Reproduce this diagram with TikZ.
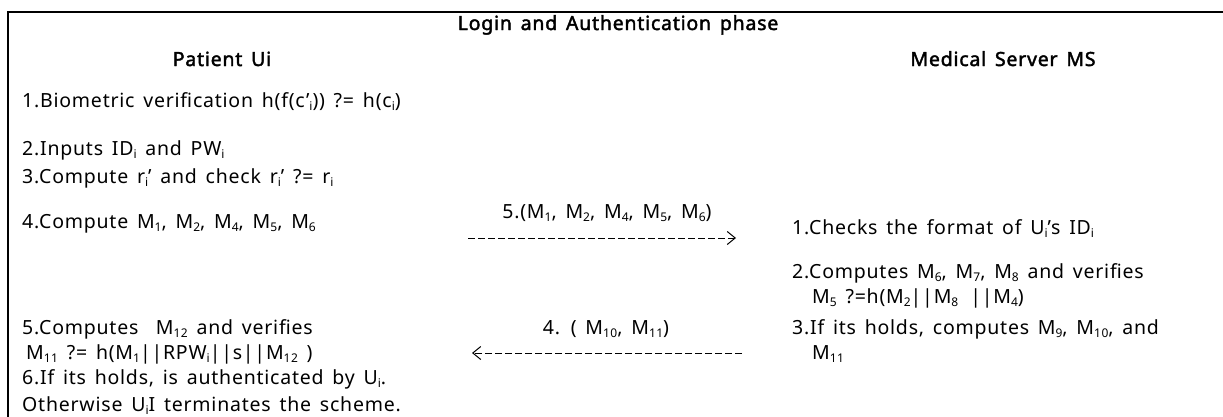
\documentclass[tikz,border=0pt]{standalone}
\usepackage{fontspec}
\setmainfont{Noto Sans}[BoldFont={Noto Sans}, BoldFeatures={FakeBold=2}, WordSpace=1.5, LetterSpace=4]
\usetikzlibrary{arrows.meta}
% small lowered index, as used in the message notation
\newcommand\ix[1]{\raisebox{-0.35ex}{\fontsize{12}{12}\selectfont #1}}
\newcommand\bodysize{\fontsize{19.5}{22}\selectfont}
\tikzset{
  frame/.style={line width=1.2pt},
  steptext/.style={anchor=base west, inner sep=0pt, font=\bodysize},
  heading/.style={anchor=base, inner sep=0pt, font=\bodysize\bfseries},
  msglabel/.style={anchor=base, inner sep=0pt, font=\bodysize},
  msgarrow/.style={line width=1pt, dash pattern=on 7pt off 3pt,
    -{Straight Barb[length=8pt,width=13pt,line width=1pt]}}
}
\begin{document}
\begin{tikzpicture}[x=1pt,y=-1pt]
\useasboundingbox (0,0) rectangle (1223,416);
% open frame: left and top edges
\draw[frame] (8,420) -- (8,12) -- (1230,12);

% headings
\node[heading] (title) at (618,30) {Login and Authentication phase};
\node[heading] (patient) at (222,66) {Patient Ui};
\node[heading] (server) at (1003,66) {Medical Server MS};

% patient side
\node[steptext] (p1) at (22,107) {1.Biometric verification h(f(c’\ix{i})) ?= h(c\ix{i})};
\node[steptext] (p2) at (22,155) {2.Inputs ID\ix{i} and PW\ix{i}};
\node[steptext] (p3) at (22,183) {3.Compute r\ix{i}’ and check r\ix{i}’ ?= r\ix{i}};
\node[steptext] (p4) at (22,228) {4.Compute M\ix{1}, M\ix{2}, M\ix{4}, M\ix{5}, M\ix{6}};
\node[steptext] (p5) at (22,334) {5.Computes \ M\ix{12} and verifies};
\node[steptext] (p5b) at (26,359) {M\ix{11} ?= h(M\ix{1}||RPW\ix{i}||s||M\ix{12} )};
\node[steptext] (p6) at (22,384) {6.If its holds, is authenticated by U\ix{i}.};
\node[steptext] (p7) at (22,411) {Otherwise U\ix{i}I terminates the scheme.};

% server side
\node[steptext] (s1) at (792,234) {1.Checks the format of U\ix{i}’s ID\ix{i}};
\node[steptext] (s2) at (792,278) {2.Computes M\ix{6}, M\ix{7}, M\ix{8} and verifies};
\node[steptext] (s2b) at (812,303) {M\ix{5} ?=h(M\ix{2}||M\ix{8} \,||M\ix{4})};
\node[steptext] (s3) at (792,334) {3.If its holds, computes M\ix{9}, M\ix{10}, and};
\node[steptext] (s3b) at (812,359) {M\ix{11}};

% messages
\node[msglabel] (m1) at (607,218) {5.(M\ix{1}, M\ix{2}, M\ix{4}, M\ix{5}, M\ix{6})};
\coordinate (m1from) at (468,238);
\coordinate (m1to) at (736,238);
\draw[msgarrow] (m1from) -- (m1to);

\node[msglabel] (m2) at (606,334) {4. ( M\ix{10}, M\ix{11})};
\coordinate (m2from) at (742,353);
\coordinate (m2to) at (472,353);
\draw[msgarrow] (m2from) -- (m2to);
\end{tikzpicture}
\end{document}
